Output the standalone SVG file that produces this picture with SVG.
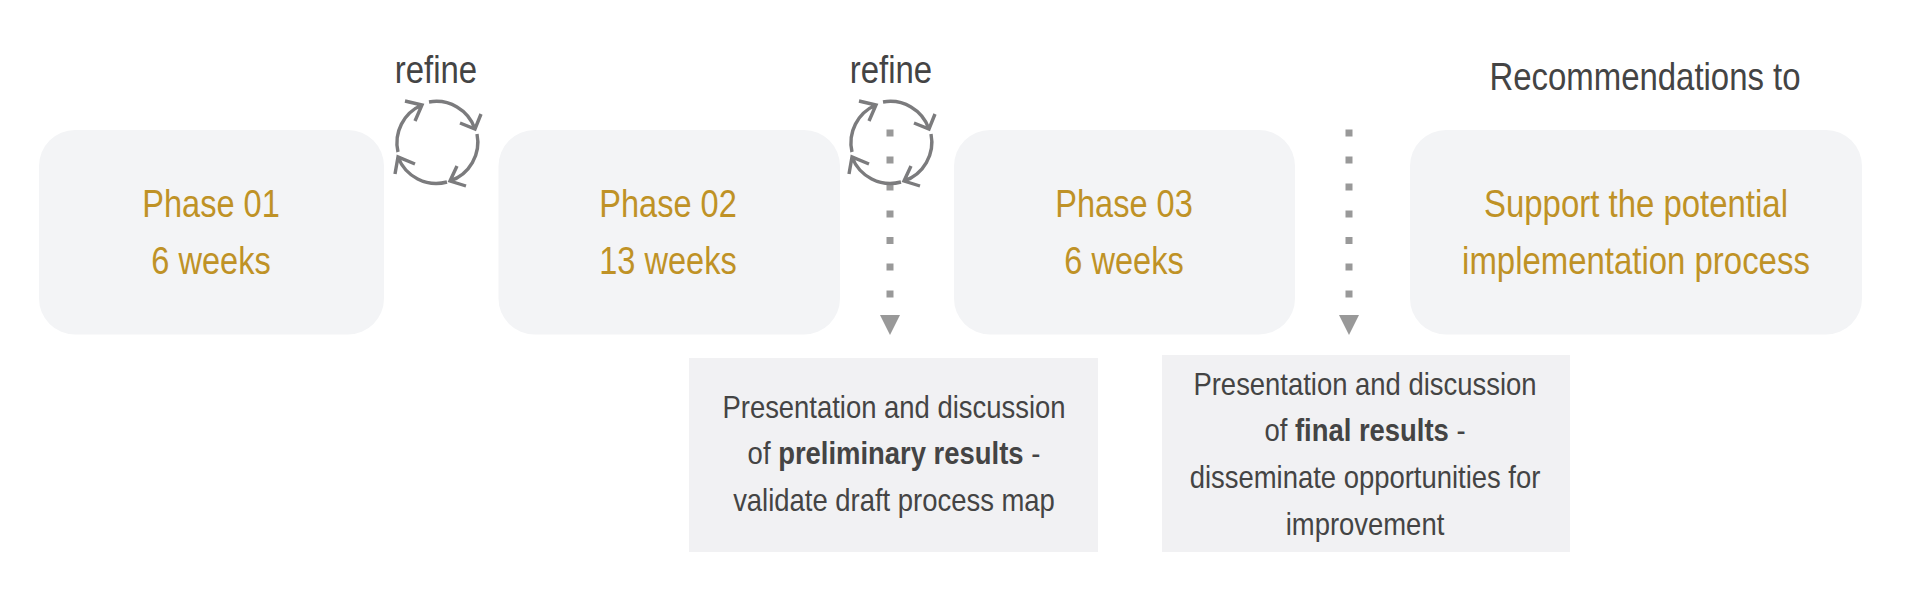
<svg xmlns="http://www.w3.org/2000/svg" xmlns:xlink="http://www.w3.org/1999/xlink" width="1920" height="604" viewBox="0 0 1920 604">
<style>
text{font-family:"Liberation Sans",Arial,sans-serif;text-anchor:middle;transform-box:fill-box;transform-origin:center}
.ph{fill:#f3f4f6}
.nt{fill:#f1f1f3}
.g{font-size:38px;fill:#bf9226;transform:scaleX(.867)}
.p{transform:scaleX(.857)}
.d{font-size:38px;fill:#444;transform:scaleX(.867)}
.b{font-size:31px;fill:#444;transform:scaleX(.885)}
.bb{font-weight:700}
.c{fill:none;stroke:#7b7b7d;stroke-width:3.4}
.dot{fill:#999}
</style>
<defs>
<g id="cycle" class="c">
<path d="M429 102A41 41 0 0 1 475 129M460 123L475 129L481 114"/>
<path d="M477 134A41 41 0 0 1 450 181M457 166L450 181L466 186"/>
<path d="M447 182A41 41 0 0 1 398 157M415 164L398 157L395 174"/>
<path d="M398 152A41 41 0 0 1 422 105M405 101L422 105L415 121"/>
</g>
<g id="dots" class="dot">
<rect x="-3.5" y="129.5" width="7" height="7"/>
<rect x="-3.5" y="156.5" width="7" height="7"/>
<rect x="-3.5" y="183.5" width="7" height="7"/>
<rect x="-3.5" y="210.5" width="7" height="7"/>
<rect x="-3.5" y="237" width="7" height="7"/>
<rect x="-3.5" y="263.5" width="7" height="7"/>
<rect x="-3.5" y="290.5" width="7" height="7"/>
<path d="M-10 315H10L0 335Z"/>
</g>
</defs>
<rect width="1920" height="604" fill="#fff"/>
<g id="phase01"><rect class="ph" x="39" y="130" width="345" height="204.500" rx="36"/><text class="g p" x="211" y="217">Phase 01</text><text class="g p" x="211" y="274.500">6 weeks</text></g>
<g id="phase02"><rect class="ph" x="498.500" y="130" width="341.500" height="204.500" rx="36"/><text class="g p" x="668" y="217">Phase 02</text><text class="g p" x="668" y="274.500">13 weeks</text></g>
<g id="phase03"><rect class="ph" x="954" y="130" width="341" height="204.500" rx="36"/><text class="g p" x="1124" y="217">Phase 03</text><text class="g p" x="1124" y="274.500">6 weeks</text></g>
<g id="support"><rect class="ph" x="1410" y="130" width="452" height="204.500" rx="36"/><text class="g" x="1636" y="217">Support the potential</text><text class="g" x="1636" y="274.500">implementation process</text></g>
<g id="recommendations"><text class="d" x="1645" y="90">Recommendations to</text></g>
<g id="note1"><rect class="nt" x="689" y="358" width="409" height="194"/><text class="b" x="894" y="418">Presentation and discussion</text><text class="b" x="894" y="464.500">of <tspan class="bb">preliminary results</tspan> -</text><text class="b" x="894" y="511">validate draft process map</text></g>
<g id="note2"><rect class="nt" x="1162" y="355" width="408" height="197"/><text class="b" x="1365" y="395">Presentation and discussion</text><text class="b" x="1365" y="441.500">of <tspan class="bb">final results</tspan> -</text><text class="b" x="1365" y="488">disseminate opportunities for</text><text class="b" x="1365" y="535">improvement</text></g>
<g id="connectors">
<use xlink:href="#dots" href="#dots" x="890"/>
<use xlink:href="#dots" href="#dots" x="1349"/>
<use xlink:href="#cycle" href="#cycle"/>
<use xlink:href="#cycle" href="#cycle" x="454"/>
</g>
<g id="refine1"><text class="d" x="436" y="83.500">refine</text></g>
<g id="refine2"><text class="d" x="891" y="83.500">refine</text></g>
</svg>
